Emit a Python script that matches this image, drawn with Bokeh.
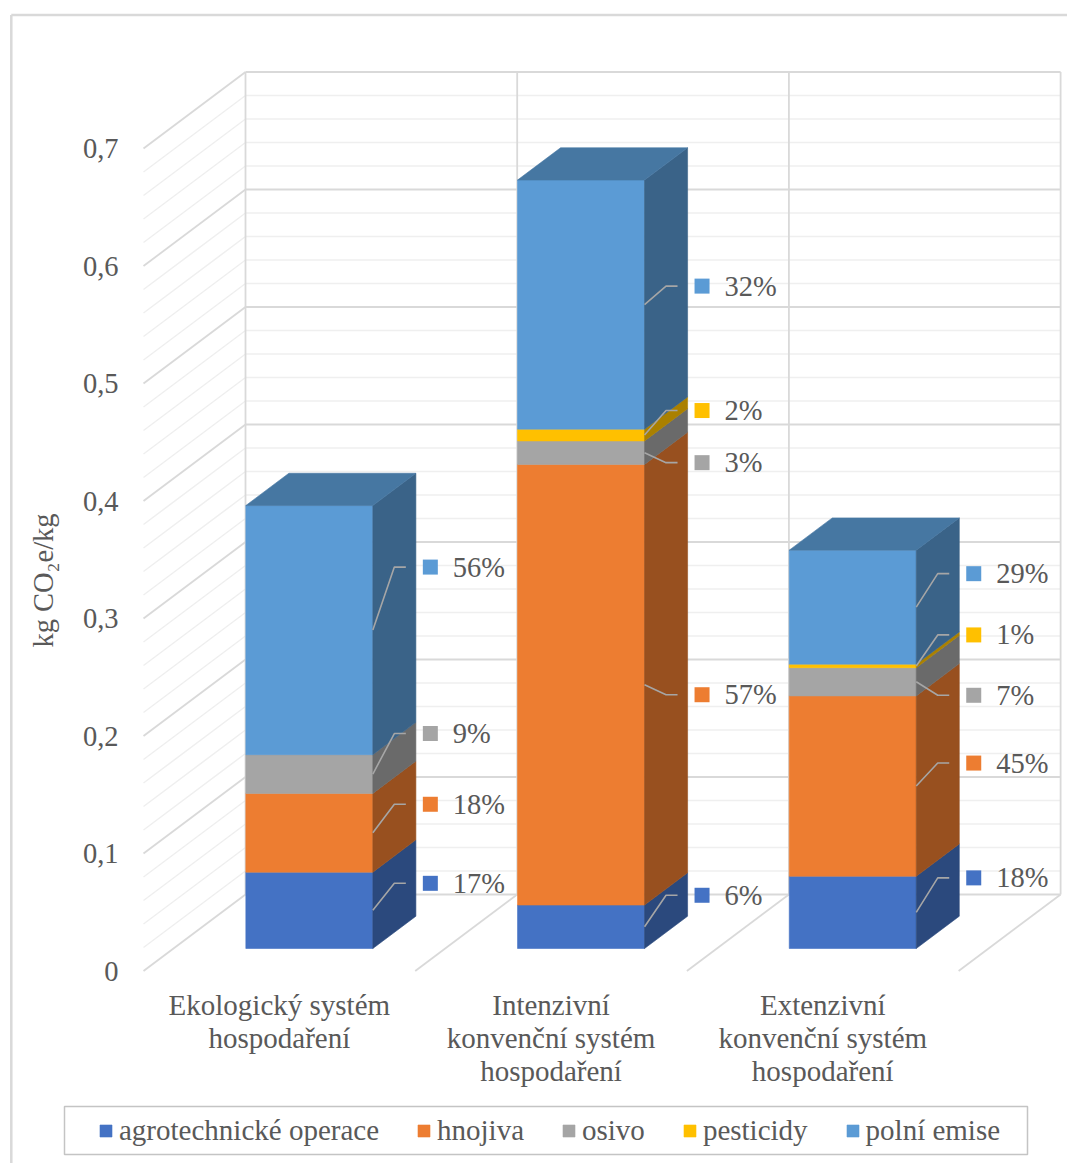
import math
from bokeh.plotting import figure
from bokeh.models import Range1d, Legend, LegendItem
from bokeh.embed import file_html
from bokeh.resources import INLINE
from bokeh.core.properties import value

# ---------------- DATA ----------------
categories = ["Ekologický systém\nhospodaření",
              "Intenzivní\nkonvenční systém\nhospodaření",
              "Extenzivní\nkonvenční systém\nhospodaření"]
series_names = ["agrotechnické operace", "hnojiva", "osivo", "pesticidy", "polní emise"]
agrotechnicke_operace = [0.065, 0.037, 0.0615]
hnojiva = [0.067, 0.375, 0.1535]
osivo = [0.033, 0.020, 0.024]
pesticidy = [0.0, 0.010, 0.003]
polni_emise = [0.212, 0.212, 0.097]
labels_agro = ["17%", "6%", "18%"]
labels_hnojiva = ["18%", "57%", "45%"]
labels_osivo = ["9%", "3%", "7%"]
labels_pesticidy = ["", "2%", "1%"]
labels_polni = ["56%", "32%", "29%"]
y_ticks = [0.0, 0.1, 0.2, 0.3, 0.4, 0.5, 0.6, 0.7]
y_tick_labels = ["0", "0,1", "0,2", "0,3", "0,4", "0,5", "0,6", "0,7"]
y_title = "kg CO\u2082e/kg"

series_values = [agrotechnicke_operace, hnojiva, osivo, pesticidy, polni_emise]
series_labels = [labels_agro, labels_hnojiva, labels_osivo, labels_pesticidy, labels_polni]

# ---------------- STYLE / LAYOUT ----------------
front_colors = ["#4472C4", "#ED7D31", "#A5A5A5", "#FFC000", "#5B9BD5"]
side_colors = ["#2B497D", "#98501F", "#6A6A6A", "#AA8000", "#3A6388"]
top_color = "#4677A2"
TEXT = "#595959"
FONT = value("Liberation Serif")
FS = "28.5px"
FS_CAT = "29px"
FS_LEG = "29px"

W, H = 1067, 1163
UX = 271.7      # px per category (front plane)
UY = 1175.0     # px per value unit
X0PX, Y0PX = 143.0, 970.5   # screen position of front-plane origin
DX = 102.0 / UX             # depth offset (full depth) in data units
DY = 76.5 / UY
F0 = 0.294                  # bar front at this fraction of depth
DEPTH = 0.422               # bar depth fraction
BW = 127.0 / UX             # bar width
YMAX = 0.7

# per-label vertical offsets in px (screen, negative = up) from segment middle
label_offsets_px = [
    [-27, -31.5, -34.5],
    [-28.5, 10, -23],
    [-40.5, 10, 13.5],
    [0, -24.5, -31],
    [-63, -18.5, -33.5],
]

p = figure(width=W, height=H, output_backend="svg", toolbar_location=None,
           x_range=Range1d(-X0PX / UX, (W - X0PX) / UX),
           y_range=Range1d(-(H - Y0PX) / UY, Y0PX / UY),
           x_axis_location=None, y_axis_location=None, min_border=0)
p.outline_line_color = None
p.xgrid.visible = False
p.ygrid.visible = False
p.background_fill_color = "white"
p.border_fill_color = "white"

def px2dx(px):
    return px / UX

def px2dy(px):
    return -px / UY

def sx(px):
    return (px - X0PX) / UX

def sy(px):
    return (Y0PX - px) / UY

# outer chart border (top and left)
p.line([sx(10.8), sx(10.8)], [sy(H), sy(14.5)], line_color="#d9d9d9", line_width=2.5)
p.line([sx(10.8), sx(W)], [sy(14.5), sy(14.5)], line_color="#d9d9d9", line_width=2.5)

# ---------------- WALLS ----------------
ncat = len(categories)
grid_vals = [round(0.02 * k, 2) for k in range(int(round(YMAX / 0.02)) + 1)]
minor_v = [v for v in grid_vals if abs(v * 10 - round(v * 10)) > 1e-6]
major_v = [v for v in grid_vals if abs(v * 10 - round(v * 10)) <= 1e-6]

for vals, col, lw in [(minor_v, "#efefef", 1.5), (major_v, "#d9d9d9", 1.8)]:
    # back wall
    p.segment(x0=[DX] * len(vals), y0=[v + DY for v in vals],
              x1=[ncat + DX] * len(vals), y1=[v + DY for v in vals],
              line_color=col, line_width=lw)
    # left wall
    p.segment(x0=[0] * len(vals), y0=vals,
              x1=[DX] * len(vals), y1=[v + DY for v in vals],
              line_color=col, line_width=lw)

# back wall verticals
p.segment(x0=[k + DX for k in range(ncat + 1)], y0=[DY] * (ncat + 1),
          x1=[k + DX for k in range(ncat + 1)], y1=[YMAX + DY] * (ncat + 1),
          line_color="#d9d9d9", line_width=1.8)
# floor dividers
p.segment(x0=[k for k in range(1, ncat + 1)], y0=[0] * ncat,
          x1=[k + DX for k in range(1, ncat + 1)], y1=[DY] * ncat,
          line_color="#d9d9d9", line_width=1.8)

# ---------------- BARS ----------------
ddx, ddy = DEPTH * DX, DEPTH * DY
base = F0 * DY
front_renderers = []
cum = [0.0] * ncat
seg_info = []  # (series, cat, xr, lo, hi)
for s, vals in enumerate(series_values):
    l, r, b, t = [], [], [], []
    sxs, sys = [], []
    for i in range(ncat):
        h = vals[i]
        xl = i + 0.5 - BW / 2 + F0 * DX
        xr = xl + BW
        lo = base + cum[i]
        hi = lo + h
        cum[i] += h
        if h <= 0:
            continue
        l.append(xl); r.append(xr); b.append(lo); t.append(hi)
        sxs.append([xr, xr + ddx, xr + ddx, xr])
        sys.append([lo, lo + ddy, hi + ddy, hi])
        seg_info.append((s, i, xr, lo, hi))
    fr = p.quad(left=l, right=r, bottom=b, top=t, fill_color=front_colors[s],
                line_color=front_colors[s], line_width=0.6)
    p.patches(xs=sxs, ys=sys, fill_color=side_colors[s],
              line_color=side_colors[s], line_width=0.6)
    front_renderers.append(fr)

# top faces
txs, tys = [], []
for i in range(ncat):
    xl = i + 0.5 - BW / 2 + F0 * DX
    xr = xl + BW
    top = base + cum[i]
    txs.append([xl, xr, xr + ddx, xl + ddx])
    tys.append([top, top, top + ddy, top + ddy])
p.patches(xs=txs, ys=tys, fill_color=top_color, line_color=top_color, line_width=0.6)

# ---------------- DATA LABELS ----------------
SQ_GAP = 50.0    # px from bar front-right edge to square's left edge
lead_x, lead_y = [], []
sq_x, sq_y, sq_c = [], [], []
tx, ty, tt = [], [], []
for (s, i, xr, lo, hi) in seg_info:
    txt = series_labels[s][i]
    if not txt:
        continue
    mid = (lo + hi) / 2
    ly = mid + px2dy(label_offsets_px[s][i])
    end = xr + px2dx(SQ_GAP - 17)
    knee = end - px2dx(11.5)
    lead_x.append([xr, knee, end])
    lead_y.append([mid, ly, ly])
    sq_x.append(xr + px2dx(SQ_GAP + 7.5)); sq_y.append(ly); sq_c.append(front_colors[s])
    tx.append(xr + px2dx(SQ_GAP + 30)); ty.append(ly); tt.append(txt)

p.multi_line(xs=lead_x, ys=lead_y, line_color="#a6a6a6", line_width=1.6)
p.scatter(x=sq_x, y=sq_y, marker="square", size=15, fill_color=sq_c, line_color=None)
p.text(x=tx, y=ty, text=tt, text_font=FONT, text_font_size=FS, text_color=TEXT,
       text_align="left", text_baseline="middle")

# ---------------- AXIS TEXTS ----------------
p.text(x=[0] * len(y_ticks), y=y_ticks, text=y_tick_labels, x_offset=-25,
       text_font=FONT, text_font_size=FS, text_color=TEXT,
       text_align="right", text_baseline="middle")
p.text(x=[sx(43)], y=[sy(580)], text=[y_title], angle=math.pi / 2,
       text_font=FONT, text_font_size=FS, text_color=TEXT,
       text_align="center", text_baseline="middle")
p.text(x=[i + 0.5 for i in range(ncat)], y=[0] * ncat, text=categories, y_offset=18,
       text_font=FONT, text_font_size=FS_CAT, text_color=TEXT, text_line_height=1.03,
       text_align="center", text_baseline="top")

# ---------------- LEGEND ----------------
# legend frame
p.quad(left=[sx(64)], right=[sx(1027)], bottom=[sy(1154)], top=[sy(1106)],
       fill_color="white", line_color="#c4c4c4", line_width=1.5)
legend = Legend(items=[LegendItem(label=n, renderers=[r]) for n, r in zip(series_names, front_renderers)],
                orientation="horizontal", location=(98, 16.5),
                glyph_width=15, glyph_height=15, label_standoff=6, spacing=37, padding=6,
                border_line_color=None, background_fill_alpha=0.0,
                label_text_font="Liberation Serif", label_text_font_size=FS_LEG,
                label_text_color=TEXT)
p.add_layout(legend)

open("out.html", "w").write(file_html(p, INLINE))
